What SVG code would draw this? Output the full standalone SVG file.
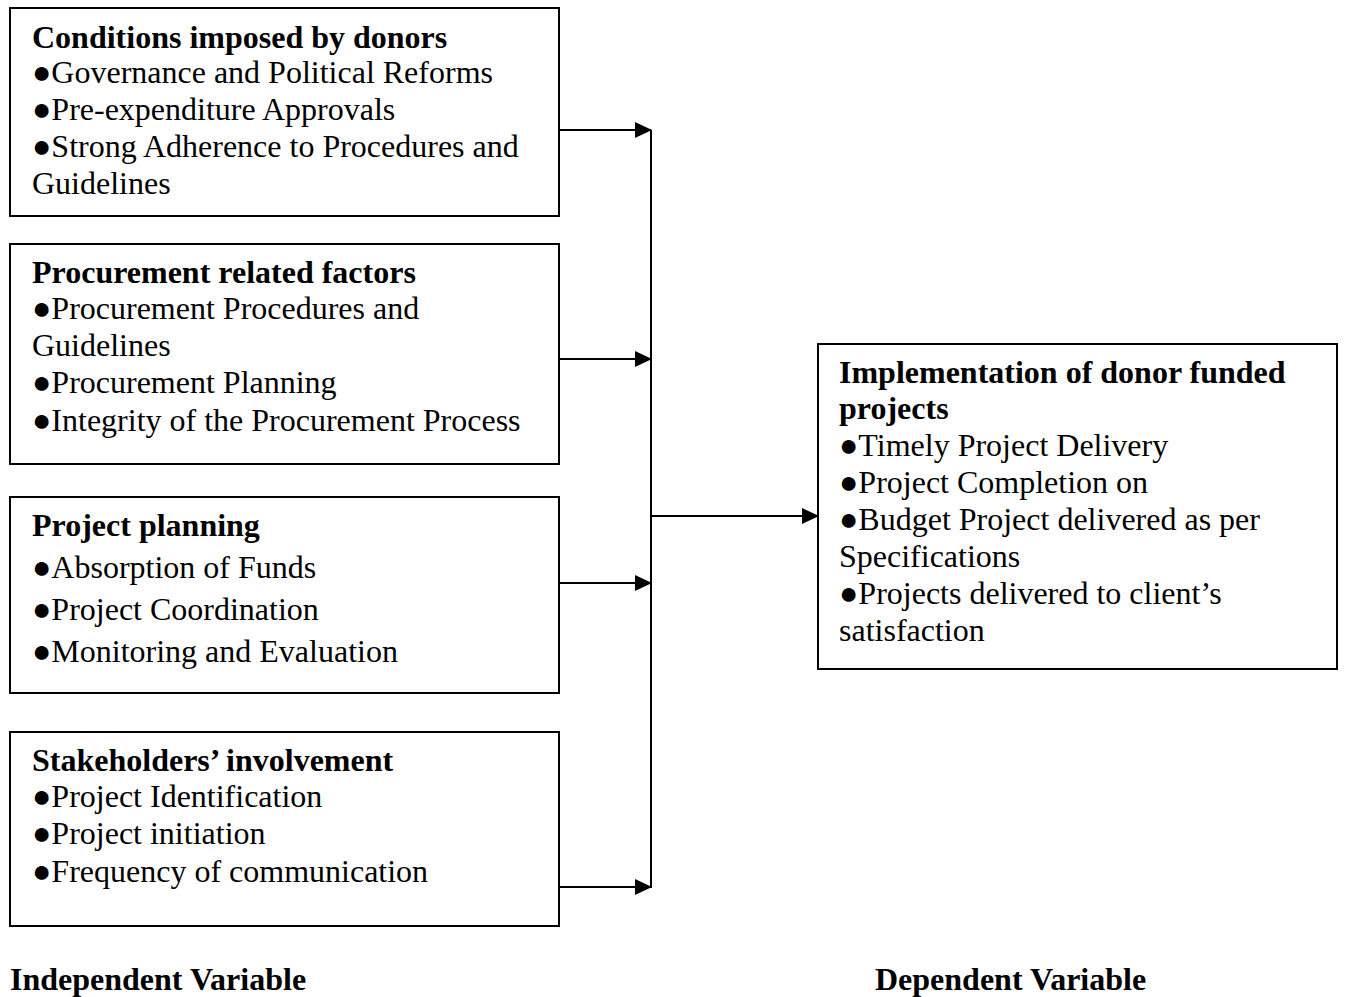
<svg xmlns="http://www.w3.org/2000/svg" width="1347" height="997" viewBox="0 0 1347 997">
<style>
  .box { fill: #fff; stroke: #000; stroke-width: 2; }
  text { font-family: "Liberation Serif", "Times New Roman", serif; font-size: 32px; fill: #000; }
  .b { font-weight: bold; }
  .conn { stroke: #000; stroke-width: 2; fill: none; }
</style>
<defs>
  <marker id="arr" markerWidth="17" markerHeight="16" refX="16" refY="8" orient="auto" markerUnits="userSpaceOnUse">
    <path d="M0,0 L17,8 L0,16 Z" fill="#000"/>
  </marker>
</defs>
<rect width="1347" height="997" fill="#fff"/>
<g id="node-conditions">
  <rect class="box" x="10" y="8" width="549" height="208"/>
  <text class="b" x="32" y="48">Conditions imposed by donors</text>
  <text x="32" y="83">●Governance and Political Reforms</text>
  <text x="32" y="120">●Pre-expenditure Approvals</text>
  <text x="32" y="157">●Strong Adherence to Procedures and</text>
  <text x="32" y="194">Guidelines</text>
</g>
<g id="node-procurement">
  <rect class="box" x="10" y="244" width="549" height="220"/>
  <text class="b" x="32" y="283">Procurement related factors</text>
  <text x="32" y="319">●Procurement Procedures and</text>
  <text x="32" y="356">Guidelines</text>
  <text x="32" y="393">●Procurement Planning</text>
  <text x="32" y="431">●Integrity of the Procurement Process</text>
</g>
<g id="node-planning">
  <rect class="box" x="10" y="497" width="549" height="196"/>
  <text class="b" x="32" y="536">Project planning</text>
  <text x="32" y="578">●Absorption of Funds</text>
  <text x="32" y="620">●Project Coordination</text>
  <text x="32" y="662">●Monitoring and Evaluation</text>
</g>
<g id="node-stakeholders">
  <rect class="box" x="10" y="732" width="549" height="194"/>
  <text class="b" x="32" y="771">Stakeholders’ involvement</text>
  <text x="32" y="807">●Project Identification</text>
  <text x="32" y="844">●Project initiation</text>
  <text x="32" y="882">●Frequency of communication</text>
</g>
<g id="node-implementation">
  <rect class="box" x="818" y="344" width="519" height="325"/>
  <text class="b" x="839" y="383">Implementation of donor funded</text>
  <text class="b" x="839" y="419">projects</text>
  <text x="839" y="456">●Timely Project Delivery</text>
  <text x="839" y="493">●Project Completion on</text>
  <text x="839" y="530">●Budget Project delivered as per</text>
  <text x="839" y="567">Specifications</text>
  <text x="839" y="604">●Projects delivered to client’s</text>
  <text x="839" y="641">satisfaction</text>
</g>
<g id="connectors">
  <line class="conn" x1="651" y1="130" x2="651" y2="888"/>
  <line class="conn" x1="559" y1="130" x2="651" y2="130" marker-end="url(#arr)"/>
  <line class="conn" x1="559" y1="359" x2="651" y2="359" marker-end="url(#arr)"/>
  <line class="conn" x1="559" y1="583" x2="651" y2="583" marker-end="url(#arr)"/>
  <line class="conn" x1="559" y1="887" x2="651" y2="887" marker-end="url(#arr)"/>
  <line class="conn" x1="651" y1="516" x2="818" y2="516" marker-end="url(#arr)"/>
</g>
<g id="labels">
  <text class="b" x="10" y="990">Independent Variable</text>
  <text class="b" x="875" y="990">Dependent Variable</text>
</g>
</svg>
